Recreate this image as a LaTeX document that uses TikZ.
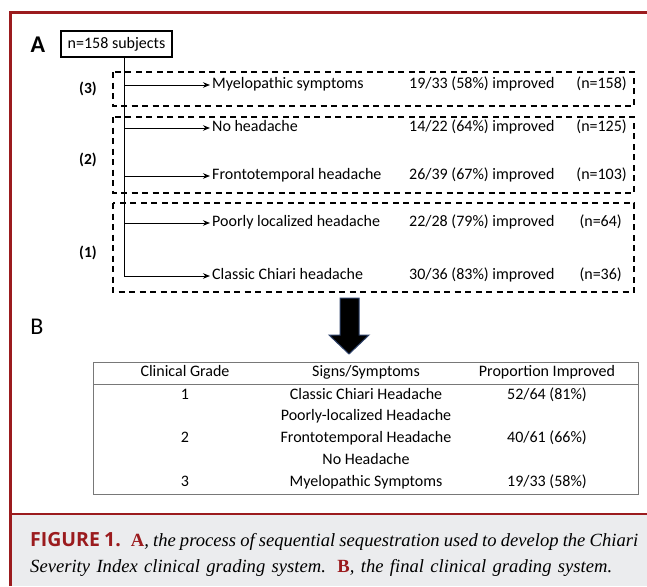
\documentclass[tikz,border=0pt]{standalone}
\usepackage{fontspec}
\setmainfont{Carlito}
\newfontfamily\capserif{Liberation Serif}
\newfontfamily\capsans{Open Sans}
\usepackage{tikz}
\usetikzlibrary{arrows.meta}
\usetikzlibrary{positioning}

\definecolor{figred}{RGB}{155,27,30}
\definecolor{capgray}{RGB}{235,236,238}
\definecolor{arrowblue}{RGB}{45,65,105}
\definecolor{rulegray}{RGB}{120,120,120}

\begin{document}
\begin{tikzpicture}[
        x=1pt, y=-1pt,
        every node/.style = {font=\fontsize{16}{18}\selectfont},
        panel/.style = {font=\fontsize{24}{26}\selectfont\bfseries},
        group/.style = {font=\fontsize{15.5}{18}\selectfont\bfseries},
        symptom/.style = {anchor=west, inner sep=2pt, text height=10pt, text depth=3pt},
        outcome/.style = {anchor=west, inner sep=0pt, text height=10pt, text depth=3pt},
        count/.style = {anchor=east, inner sep=0pt, text height=10pt, text depth=3pt},
        cell/.style = {inner sep=0pt, text height=10pt, text depth=3pt},
        branch/.style = {-{Stealth[length=7pt, width=5.5pt]}, line width=1pt},
        stage/.style = {dash pattern=on 6pt off 4.5pt, line width=1.4pt},
        caption/.style = {anchor=base west, inner sep=0pt,
                font=\fontsize{18.6}{22}\selectfont\capserif\itshape}
    ]
    \useasboundingbox (0,0) rectangle (647,586);

    \fill[capgray] (10,514) rectangle (647,586);
    \draw[figred, line width=3pt] (10,586) -- (10,13) -- (647,13);
    \draw[figred, line width=2.5pt] (10,514) -- (647,514);

    \node[panel] (PanelA) at (38,45) {A};
    \node[panel, font=\fontsize{24}{26}\selectfont] (PanelB) at (37,327) {B};

    \node[draw, line width=1.1pt, minimum width=111pt, minimum height=26pt,
        inner sep=0pt] (Root) at (116.5,44) {n=158 subjects};
    \coordinate (Stem) at (124,0);

    \draw[stage] (113,72) rectangle (634,106);
    \draw[stage] (113,117) rectangle (634,193);
    \draw[stage] (113,203) rectangle (634,292);

    \node[group] (GroupThree) at (88,89) {(3)};
    \node[group] (GroupTwo) at (88,160) {(2)};
    \node[group] (GroupOne) at (88,253) {(1)};

    \node[symptom] (Myelo) at (210,85) {Myelopathic symptoms};
    \node[symptom] (NoHead) at (210,128) {No headache};
    \node[symptom] (Fronto) at (210,176) {Frontotemporal headache};
    \node[symptom] (Poorly) at (210,223) {Poorly localized headache};
    \node[symptom] (Classic) at (210,276) {Classic Chiari headache};

    \node[outcome] (MyeloRate) at (409,85) {19/33 (58\%) improved};
    \node[outcome] (NoHeadRate) at (409,128) {14/22 (64\%) improved};
    \node[outcome] (FrontoRate) at (409,176) {26/39 (67\%) improved};
    \node[outcome] (PoorlyRate) at (409,223) {22/28 (79\%) improved};
    \node[outcome] (ClassicRate) at (409,276) {30/36 (83\%) improved};

    \node[count] (MyeloN) at (627,85) {(n=158)};
    \node[count] (NoHeadN) at (627,128) {(n=125)};
    \node[count] (FrontoN) at (627,176) {(n=103)};
    \node[count] (PoorlyN) at (622,223) {(n=64)};
    \node[count] (ClassicN) at (622,276) {(n=36)};

    \draw[branch] (Root.south -| Stem) |- (Classic);
    \draw[branch] (Stem |- Myelo) -- (Myelo);
    \draw[branch] (Stem |- NoHead) -- (NoHead);
    \draw[branch] (Stem |- Fronto) -- (Fronto);
    \draw[branch] (Stem |- Poorly) -- (Poorly);

    \draw[draw=arrowblue, fill=black, line width=1pt]
        (340,298) -- (359,298) -- (359,335) -- (369,335) -- (349,354)
        -- (329,335) -- (340,335) -- cycle;

    \draw[rulegray, line width=0.9pt] (93,362) rectangle (638,494);
    \draw[rulegray, line width=0.9pt] (93,384) -- (638,384);

    \node[cell] (GradeHead) at (185,373) {Clinical Grade};
    \node[cell] (SignsHead) at (366,373) {Signs/Symptoms};
    \node[cell] (PropHead) at (547,373) {Proportion Improved};

    \node[cell] (GradeOne) at (185,396) {1};
    \node[cell] (SignsOne) at (366,396) {Classic Chiari Headache};
    \node[cell] (PropOne) at (547,396) {52/64 (81\%)};

    \node[cell] (SignsPoorly) at (366,417) {Poorly-localized Headache};

    \node[cell] (GradeTwo) at (185,439) {2};
    \node[cell] (SignsTwo) at (366,439) {Frontotemporal Headache};
    \node[cell] (PropTwo) at (547,439) {40/61 (66\%)};

    \node[cell] (SignsNone) at (366,461) {No Headache};

    \node[cell] (GradeThree) at (185,483) {3};
    \node[cell] (SignsThree) at (366,483) {Myelopathic Symptoms};
    \node[cell] (PropThree) at (547,483) {19/33 (58\%)};

    \node[caption] (CaptionTop) at (30,546)
        {\spaceskip=0.22em plus 1em minus 0.12em
        \hbox to 608pt{{\upshape\capsans\bfseries\fontsize{19.5}{22}\selectfont\color{figred}FIGURE 1.}\hspace{10pt}{\upshape\bfseries\color{figred}A}, the process of sequential sequestration used to develop the Chiari}};
    \node[caption] (CaptionBottom) at (30,572)
        {\spaceskip=0.25em plus 1em minus 0.1em
        \hbox to 582pt{Severity Index clinical grading system. {\upshape\bfseries\color{figred}B}, the final clinical grading system.}};
\end{tikzpicture}
\end{document}
